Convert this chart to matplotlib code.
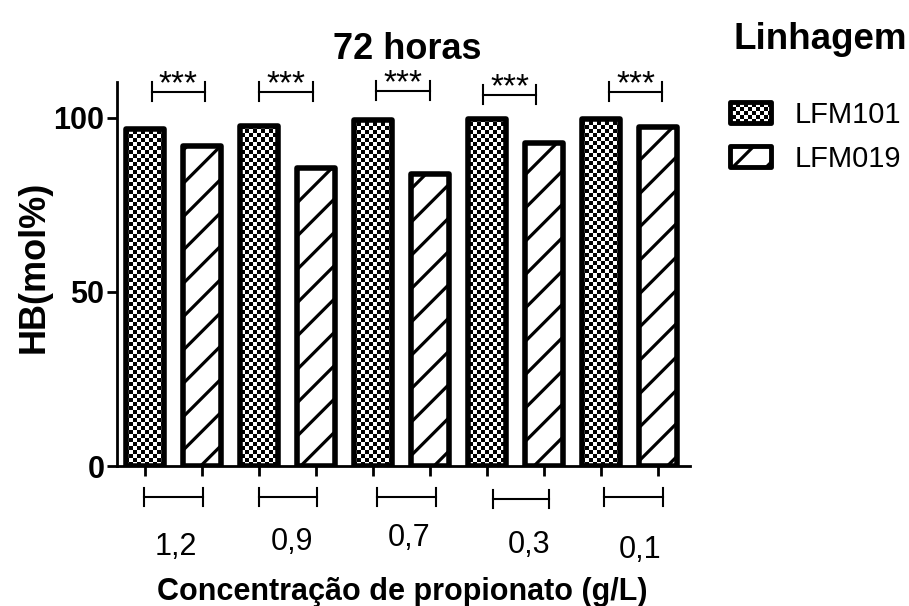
import numpy as np
import matplotlib.pyplot as plt
from matplotlib.patches import Rectangle

plt.rcParams['font.family'] = ['Liberation Sans', 'DejaVu Sans']
plt.rcParams['hatch.linewidth'] = 2.3

concentracoes = ['1,2', '0,9', '0,7', '0,3', '0,1']
lfm101 = [96.7, 97.8, 99.3, 99.6, 99.7]
lfm019 = [91.8, 85.6, 83.9, 92.7, 97.5]
signif = ['***', '***', '***', '***', '***']

W, H, DPI = 909, 606, 100
fig = plt.figure(figsize=(W / DPI, H / DPI), dpi=DPI)
ax = fig.add_axes([117 / W, 1 - 466 / H, 573 / W, 384 / H])

ngroups = len(concentracoes)
x101 = np.arange(ngroups) * 2.0
x019 = x101 + 1
bw = 0.66
lw = 4


def checker(shape, cell=4):
    rows, cols = np.indices(shape)
    return ((rows // cell + cols // cell) % 2).astype(float)


# checkered bars: edge drawn on top of a clipped checker image
bars101 = ax.bar(x101, lfm101, bw, fill=False, edgecolor='black',
                 linewidth=lw, zorder=3)
tex = checker((384, 573))
for b in bars101:
    b.set_joinstyle('round')
    im = ax.imshow(tex, cmap='gray', vmin=0, vmax=1, extent=(0, 1, 0, 1),
                   transform=ax.transAxes, interpolation='nearest',
                   aspect='auto', zorder=2)
    im.set_clip_path(b)

bars019 = ax.bar(x019, lfm019, bw, facecolor='white', edgecolor='black',
                 hatch='/', linewidth=lw, zorder=3)
for b in bars019:
    b.set_joinstyle('round')

ax.set_xlim(-0.49, 9.56)
ax.set_ylim(0, 110.3)
for s in ['top', 'right']:
    ax.spines[s].set_visible(False)
for s in ['left', 'bottom']:
    ax.spines[s].set_linewidth(2)

ax.set_yticks([0, 50, 100])
ax.set_yticklabels(['0', '50', '100'], fontsize=22, fontweight='bold')
ax.tick_params(axis='y', length=7, width=2, pad=2)
ax.set_xticks(np.sort(np.concatenate([x101, x019])))
ax.set_xticklabels([])
ax.tick_params(axis='x', length=7, width=2)

# significance brackets above each pair
top_dx = [(0.12, 0.05), (0.0, -0.05), (0.05, 0.0), (-0.07, -0.14), (0.14, 0.07)]
top_y = [107.5, 107.5, 107.8, 106.6, 107.5]
for i in range(ngroups):
    xa = x101[i] + top_dx[i][0]
    xb = x019[i] + top_dx[i][1]
    y = top_y[i]
    ax.plot([xa, xb], [y, y], color='black', lw=1.5, clip_on=False)
    ax.plot([xa, xa], [y - 2.7, y + 2.7], color='black', lw=1.5, clip_on=False)
    ax.plot([xb, xb], [y - 2.7, y + 2.7], color='black', lw=1.5, clip_on=False)
    ax.text((xa + xb) / 2, y - 0.4, signif[i], ha='center', va='baseline',
            fontsize=24, clip_on=False)

# group brackets under the axis
bot_dx = [(-0.02, 0.02), (0.0, 0.02), (0.07, 0.1), (0.1, 0.09), (0.05, 0.09)]
bot_y = [-8.9, -8.9, -8.9, -9.5, -8.9]
for i in range(ngroups):
    xa = x101[i] + bot_dx[i][0]
    xb = x019[i] + bot_dx[i][1]
    y = bot_y[i]
    ax.plot([xa, xb], [y, y], color='black', lw=1.5, clip_on=False)
    ax.plot([xa, xa], [y - 2.6, y + 2.6], color='black', lw=1.5, clip_on=False)
    ax.plot([xb, xb], [y - 2.6, y + 2.6], color='black', lw=1.5, clip_on=False)

lab_dx = [0.04, 0.08, 0.13, 0.24, 0.18]
lab_y = [-25.5, -24.0, -23.0, -25.0, -26.5]
for i, lab in enumerate(concentracoes):
    ax.text(x101[i] + 0.5 + lab_dx[i], lab_y[i], lab, ha='center',
            va='baseline', fontsize=22, clip_on=False)

fig.text(407 / W, 1 - 59 / H, '72 horas', ha='center', va='baseline',
         fontsize=26, fontweight='bold')
fig.text(402 / W, 1 - 600 / H, 'Concentração de propionato (g/L)',
         ha='center', va='baseline', fontsize=22, fontweight='bold')
fig.text(34 / W, 1 - 267 / H, 'HB(mol%)', ha='center', va='center',
         rotation=90, fontsize=26, fontweight='bold')

# legend drawn in figure pixel coordinates
lax = fig.add_axes([0, 0, 1, 1])
lax.set_xlim(0, W)
lax.set_ylim(H, 0)
lax.axis('off')
lax.text(733, 49, 'Linhagem', ha='left', va='baseline', fontsize=26.5,
         fontweight='bold')

r101 = Rectangle((729.5, 101.5), 41, 21, fill=False, edgecolor='black',
                 linewidth=3.5, joinstyle='round', zorder=3)
lax.add_patch(r101)
im = lax.imshow(checker((H, W)), cmap='gray', vmin=0, vmax=1,
                extent=(0, W, H, 0), interpolation='nearest', aspect='auto',
                zorder=2)
im.set_clip_path(r101)
lax.set_xlim(0, W)
lax.set_ylim(H, 0)

r019 = Rectangle((729.5, 145.5), 41, 21, facecolor='white', edgecolor='black',
                 hatch='/', linewidth=3.5, joinstyle='round', zorder=3)
lax.add_patch(r019)
lax.text(795, 122.7, 'LFM101', ha='left', va='baseline', fontsize=21)
lax.text(795, 167, 'LFM019', ha='left', va='baseline', fontsize=21)

fig.savefig('out.png', dpi=DPI)
